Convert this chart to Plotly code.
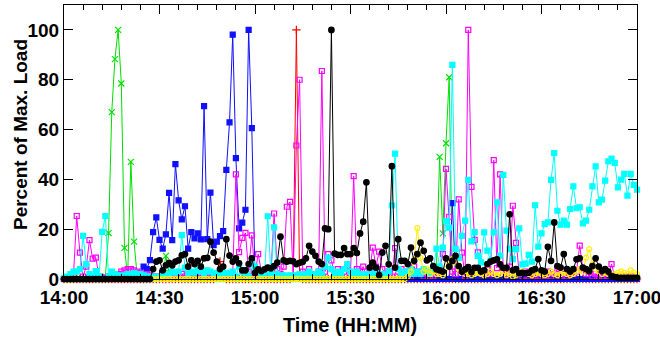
import plotly.graph_objects as go

minutes = list(range(0, 181))
tick_vals = [0, 30, 60, 90, 120, 150, 180]
tick_text = ["14:00", "14:30", "15:00", "15:30", "16:00", "16:30", "17:00"]
y_ticks = [0, 20, 40, 60, 80, 100]

red = [0]*10 + [0]*10 + [0]*10 + [0]*10 + \
    [0, 0, 0, 0, 0, 0, 0, 0, 1, 7] + \
    [1, 0, 0, 0, 0, 0, 0, 0, 0, 0] + \
    [0]*10 + \
    [0, 0, 1, 100, 1, 0, 0, 0, 0, 0] + \
    [0]*101

green = [0]*10 + \
    [0, 0, 0, 1, 18.4, 67, 88.3, 100, 78.5, 12.5] + \
    [1, 47, 15, 1, 0, 0, 0, 0, 0, 0] + \
    [0, 1, 9.3, 2.5, 0, 0, 0, 0, 0, 0] + \
    [0]*70 + \
    [0, 0, 0, 0, 0, 0, 0, 5, 49, 18.3] + \
    [54.5, 81, 0, 0, 0, 0, 0, 0, 0, 0] + \
    [0]*51

blue = [0]*10 + \
    [0, 0, 0, 0, 0, 0, 0, 0, 0, 1] + \
    [1, 1.5, 2, 2, 2, 5, 4, 7.6, 18.8, 24.7] + \
    [15.7, 12.2, 17.9, 34.6, 15.6, 46.1, 31.6, 23.9, 29.2, 12.2] + \
    [18.8, 16.3, 18.3, 15.9, 69.4, 16, 34.7, 13.6, 15, 17.2] + \
    [19.2, 43.8, 62.9, 98.1, 48.5, 20.3, 22.6, 27.8, 100, 60.6] + \
    [1] + [None]*47 + \
    [0, 0, 0, 0, 0, 0, 0, 0, 0, 0, 0, 0, 0, 0, 30.5, 0] + [0]*57

magenta = [0, 0.5, 1, 2, 25.3, 10.6, 1, 5, 15.6, 8.2,
           8.6, 1, 0.5, 0.5, 1, 1, 1.5, 2, 3, 3.5,
           4, 4, 3.5, 3, 2.5, 2, 2, 1.5, 1, 1,
           0.5, 1, 1.5, 1, 2, 1, 1.5, 2, 1, 1.5,
           1, 2, 1, 1.5, 1, 2, 1, 1.5, 1, 2,
           1, 1.5, 1, 2, 42, 10.8, 16.5, 18.5, 3, 17.5,
           2, 10, 3, 1, 1, 2, 26.3, 4, 2, 5,
           29, 31, 1, 53.6, 80, 3, 2, 4, 1, 2,
           3, 83.5, 3, 10, 7.5, 2, 4, 1, 3, 5,
           2, 41.3, 4, 3, 5, 1, 3, 12.6, 5, 11,
           4, 2, 3, 1, 12.4, 3, 4, 2, 3, 1,
           5, 2, 3, 1, 2, 1, 1, 2, 4, 10,
           44.2, 25, 3, 2, 32, 10.6, 1, 100, 37, 15.7,
           10.7, 3, 2, 4, 2, 47.7, 4.4, 42, 3, 2,
           5, 29.4, 14.5, 2, 1, 3, 1, 2, 1, 1,
           2, 1, 3, 1, 2, 4, 1, 2, 1, 3,
           2, 3, 13.4, 4, 2, 3, 1, 2, 1, 1,
           2, 1, 6, 1, 1, 0.5, 1, 0.5, 1, 0.5, 0.5]

cyan = [0.5, 1, 2, 3, 3, 4, 17.3, 6, 2, 1,
        3.2, 1, 18.9, 25.3, 1, 3, 2, 1.5, 1, 1.5,
        2, 2, 2.5, 2, 2, 1.5, 1, 1, 1, 0.5,
        1, 1.5, 2, 2, 3, 2.5, 3, 17.6, 4.6, 2,
        3, 2.5, 3.5, 3, 2, 3.5, 3, 2, 2.5, 1.5,
        2, 2.5, 2, 3, 1, 5, 3, 2.5, 1, 6,
        5, 3, 1, 2, 25.2, 2, 20.7, 2, 1, 1.5,
        1, 1.5, 1, 1.5, 2, 1, 2, 3, 1.5, 2,
        3, 2, 5, 8.6, 4, 2, 3, 2, 4, 6,
        3, 2, 3, 2, 1, 2, 1, 2, 3, 1,
        2, 1, 3, 29.5, 50.3, 4, 2, 3, 2, 4,
        2, 3, 2, 4, 3, 2, 4, 12.2, 5, 12.6,
        23.2, 20.6, 86, 12.1, 8.5, 17.3, 23.4, 39.8, 15.1, 18.8,
        9.3, 6.7, 18.7, 11.4, 7.4, 18.7, 30.8, 9.4, 41.8, 19.4,
        12, 8, 12, 20.3, 5.9, 6.2, 9.7, 7, 29.6, 13,
        18.3, 22, 22.7, 39.8, 50.5, 27.4, 21.8, 23.4, 21.8, 28.1,
        37.2, 28.4, 28.8, 22.3, 23.4, 27.8, 37.2, 45.2, 30.8, 31.9,
        39.5, 47.2, 48.3, 46.6, 36.8, 39.9, 42.2, 33.5, 42.2, 37.8, 35.9]

yellow = [0]*108 + \
    [1, 3] + \
    [8, 20.4, 8.5, 3, 4, 2, 3, 2, 2, 1.5] + \
    [4, 6, 8, 6.6, 4, 3, 2, 2, 1.5, 2] + \
    [2.5, 2, 1.5, 2, 3, 2, 1.5, 2, 2.5, 1.5] + \
    [2, 1, 1.5, 2, 3, 2.5, 2, 1.5, 2, 2.5] + \
    [2, 1.5, 2, 3, 2, 1.5, 2, 2.5, 2, 1.5] + \
    [2, 3, 4, 3, 8.6, 12, 6, 4, 3, 2] + \
    [2.5, 2, 1.5, 2, 2.5, 3, 2.5, 2, 3.5, 2.5, 2]

black = [0]*28 + \
    [4, 7] + \
    [7.5, 3.5, 5.5, 6.5, 5.5, 7, 7.5, 9.5, 10, 5] + \
    [7.5, 6, 7.3, 5, 8.3, 8.5, 15, 10.6, 7, 4] + \
    [5, 16, 9.4, 7, 8.3, 6.3, 3.5, 3.5, 6, 8.3] + \
    [2.5, 3.9, 3.2, 3.9, 4.6, 4.3, 5.2, 6.6, 17, 7.5] + \
    [7, 7.3, 7.1, 6, 6.5, 6.9, 8.3, 13.3, 11, 9.3] + \
    [7, 6, 20.3, 20, 100, 10.2, 9.7, 9.7, 12.4, 10] + \
    [10, 12.4, 10.4, 18.3, 23, 38.8, 4.6, 6.6, 4.6, 1.6] + \
    [10.6, 13.3, 5.9, 45.3, 4.6, 16, 7.3, 7.3, 6, 12.6] + \
    [7.3, 10, 14.6, 11.3, 7.5, 8.3, 5.2, 3.9, 3.5, 3] + \
    [8.3, 5, 7.3, 9.3, 5.2, 3, 3.9, 4.8, 2.8, 4.5] + \
    [4.5, 3, 3.5, 6, 7, 7.5, 7.9, 5.9, 4.5, 4.5] + \
    [26, 3.5, 4, 2.3, 2.5, 2.3, 2.5, 3.5, 4, 8] + \
    [3.5, 3, 12.9, 7.3, 22.7, 5.2, 4.6, 10, 4, 3] + \
    [4, 7.9, 8.3, 4.6, 4, 3.2, 5.2, 8.3, 5, 3.2] + \
    [4, 3, 1.2, 0.8, 0.5, 0.5, 0.5, 0.5, 0.5, 0.5, 0.5]

series = [
    ("red", red, "#ff0000", "cross-thin-open", 6),
    ("green", green, "#00e000", "x-thin-open", 6),
    ("blue", blue, "#1010ff", "square", 5),
    ("magenta", magenta, "#ff00ff", "square-open", 5),
    ("cyan", cyan, "#00ffff", "square", 5),
    ("yellow", yellow, "#ffee00", "circle-open", 5),
    ("black", black, "#000000", "circle", 5.5),
]

fig = go.Figure()
for name, vals, color, sym, size in series:
    fig.add_trace(go.Scatter(
        x=minutes, y=vals, mode="lines+markers", name=name,
        line=dict(color=color, width=1),
        marker=dict(symbol=sym, size=size, color=color,
                    line=dict(color=color, width=1.2)),
        connectgaps=False, showlegend=False, cliponaxis=False,
    ))

tick_font = dict(family="Liberation Sans, Arial, sans-serif", size=19, color="black", weight="bold")
title_font = dict(family="Liberation Sans, Arial, sans-serif", size=20, color="black", weight="bold")

fig.update_layout(
    width=660, height=337,
    margin=dict(l=64, r=23, t=5, b=58, autoexpand=False),
    paper_bgcolor="white", plot_bgcolor="white",
    font=tick_font,
    xaxis=dict(
        range=[0, 180], tickvals=tick_vals, ticktext=tick_text,
        ticks="inside", ticklen=9, tickcolor="black", tickwidth=1,
        showline=True, linecolor="black", linewidth=1, mirror="allticks",
        showgrid=False, zeroline=False, tickfont=tick_font, automargin=False,
        ticklabeloverflow="allow", ticklabelstandoff=1,
        minor=dict(dtick=6, tick0=0, ticks="inside", ticklen=5, tickcolor="black", showgrid=False),
    ),
    yaxis=dict(
        range=[0, 110], tickvals=y_ticks,
        ticks="inside", ticklen=9, tickcolor="black", tickwidth=1,
        showline=True, linecolor="black", linewidth=1, mirror="allticks",
        showgrid=False, zeroline=False, tickfont=tick_font, automargin=False,
        ticklabeloverflow="allow",
    ),
    annotations=[
        dict(text="Time (HH:MM)", xref="paper", yref="paper", x=0.499, y=-0.168,
             xanchor="center", yanchor="middle", showarrow=False, font=title_font),
        dict(text="Percent of Max. Load", xref="paper", yref="paper", x=-0.0768, y=0.529,
             xanchor="center", yanchor="middle", showarrow=False, textangle=-90,
             font=dict(family="Liberation Sans, Arial, sans-serif", size=19, color="black", weight="bold")),
    ],
)

fig.write_html("out.html", config={"displayModeBar": False},
               post_script="document.body.style.margin='0px';document.body.style.padding='0px';")
